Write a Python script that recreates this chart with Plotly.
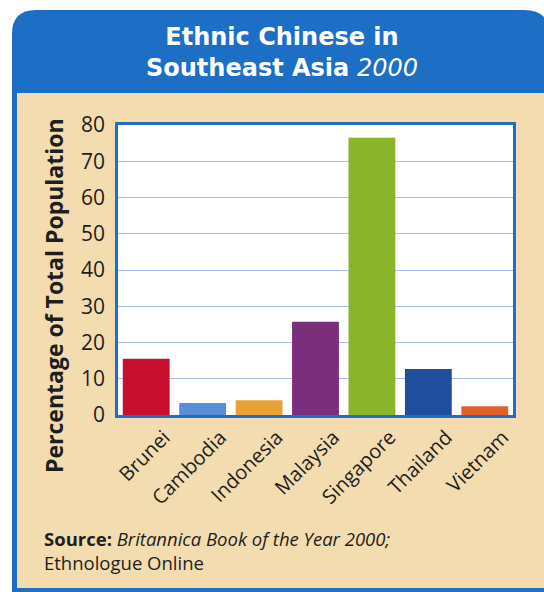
import plotly.graph_objects as go

countries = ["Brunei", "Cambodia", "Indonesia", "Malaysia", "Singapore", "Thailand", "Vietnam"]
percent = [15.5, 3.3, 4.1, 25.7, 76.5, 12.7, 2.4]
bar_colors = ["#c8102e", "#5a8fd8", "#e9a233", "#7a2e7c", "#8bb52b", "#1f4f9c", "#e2612b"]
y_ticks = [0, 10, 20, 30, 40, 50, 60, 70, 80]

W, H = 544, 592
L, R, T, B = 118, 513, 125, 415

def X(px):
    return (px - L) / (R - L)

def Y(py):
    return (B - py) / (B - T)

fig = go.Figure(go.Bar(
    x=countries, y=percent, marker=dict(color=bar_colors, line=dict(width=0)),
    showlegend=False,
))

blue = "#1c6fc4"
beige = "#f3dcb0"

box_path = (f"M {X(12)},{Y(600)} L {X(12)},{Y(34)} Q {X(12)},{Y(10)} {X(36)},{Y(10)} "
            f"L {X(524)},{Y(10)} Q {X(550)},{Y(10)} {X(550)},{Y(36)} L {X(550)},{Y(600)} Z")

shapes = [
    dict(type="path", path=box_path, xref="paper", yref="paper",
         fillcolor=blue, line=dict(width=0), layer="below"),
    dict(type="rect", xref="paper", yref="paper", x0=X(17), x1=X(560), y0=Y(93), y1=Y(588),
         fillcolor=beige, line=dict(width=0), layer="below"),
    dict(type="rect", xref="paper", yref="paper", x0=0, x1=1, y0=0, y1=1,
         fillcolor="white", line=dict(width=0), layer="below"),
]

text_col = "#1e1e1e"

annotations = [
    dict(text="<b>Ethnic Chinese in</b><br><b>Southeast Asia</b> <i>2000</i>",
         x=X(282), y=Y(52), xref="paper", yref="paper", align="center",
         xanchor="center", yanchor="middle", showarrow=False,
         font=dict(family="DejaVu Sans", size=24, color="white")),
    dict(text="<b>Percentage of Total Population</b>", x=X(54), y=Y(296), xref="paper", yref="paper",
         xanchor="center", yanchor="middle", textangle=-90, showarrow=False,
         font=dict(family="Open Sans", size=23, color=text_col)),
    dict(text="<b>Source:</b> <i>Britannica Book of the Year 2000;</i><br>Ethnologue Online",
         x=X(42), y=Y(550), xref="paper", yref="paper", align="left",
         xanchor="left", yanchor="middle", showarrow=False,
         font=dict(family="Open Sans", size=18.5, color=text_col)),
]

fig.update_layout(
    width=W, height=H,
    margin=dict(l=L, r=W - R, t=T, b=H - B),
    paper_bgcolor="white", plot_bgcolor="white",
    bargap=0.17,
    shapes=shapes, annotations=annotations,
    xaxis=dict(tickangle=-45, tickfont=dict(family="Open Sans", size=20, color=text_col),
               showline=True, linecolor=blue, linewidth=2.5, mirror=True,
               showgrid=False, ticks="", ticklabelshift=18, fixedrange=True),
    yaxis=dict(range=[0, 80], tickvals=y_ticks, ticktext=[str(v) for v in y_ticks],
               tickfont=dict(family="Open Sans", size=21, color=text_col),
               showline=True, linecolor=blue, linewidth=2.5, mirror=True,
               showgrid=True, gridcolor="#a9b9ee", gridwidth=1,
               zeroline=False, ticks="", ticklabelstandoff=6),
)

fig.write_html("out.html")
